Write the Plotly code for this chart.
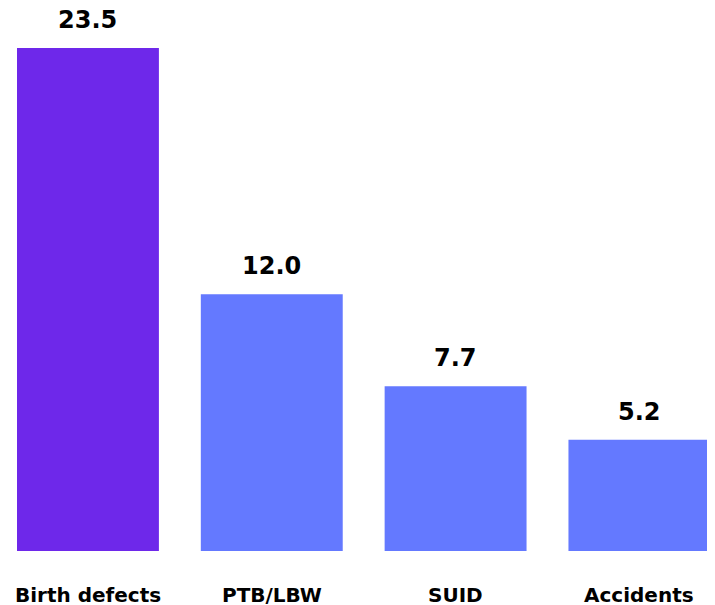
import plotly.graph_objects as go

categories = ["Birth defects", "PTB/LBW", "SUID", "Accidents"]
values = [23.5, 12.0, 7.7, 5.2]
value_labels = ["23.5", "12.0", "7.7", "5.2"]
colors = ["#6E28EA", "#6479FF", "#6479FF", "#6479FF"]

fig = go.Figure(go.Bar(
    x=categories, y=values, marker=dict(color=colors, line=dict(width=0)),
    cliponaxis=False,
))
ann = []
for c, v, t in zip(categories, values, value_labels):
    ann.append(dict(x=c, y=v, xref="x", yref="y", text="<b>" + t + "</b>", showarrow=False,
                    yanchor="middle", yshift=28,
                    font=dict(family="DejaVu Sans", size=24, color="#000000")))
    ann.append(dict(x=c, y=0, xref="x", yref="paper", text="<b>" + c + "</b>", showarrow=False,
                    yanchor="middle", yshift=-44,
                    font=dict(family="DejaVu Sans", size=20, color="#000000")))
fig.update_layout(
    width=707, height=597, plot_bgcolor="white", paper_bgcolor="white",
    margin=dict(l=9, r=5, t=0, b=54, autoexpand=False), bargap=0.228, showlegend=False,
    annotations=ann,
)
fig.update_xaxes(range=[-0.386, 3.384], showgrid=False, showline=False, zeroline=False,
                 ticks="", showticklabels=False, automargin=False)
fig.update_yaxes(range=[0, 25.37], visible=False, showgrid=False, zeroline=False, automargin=False)
fig.write_html("out.html")
